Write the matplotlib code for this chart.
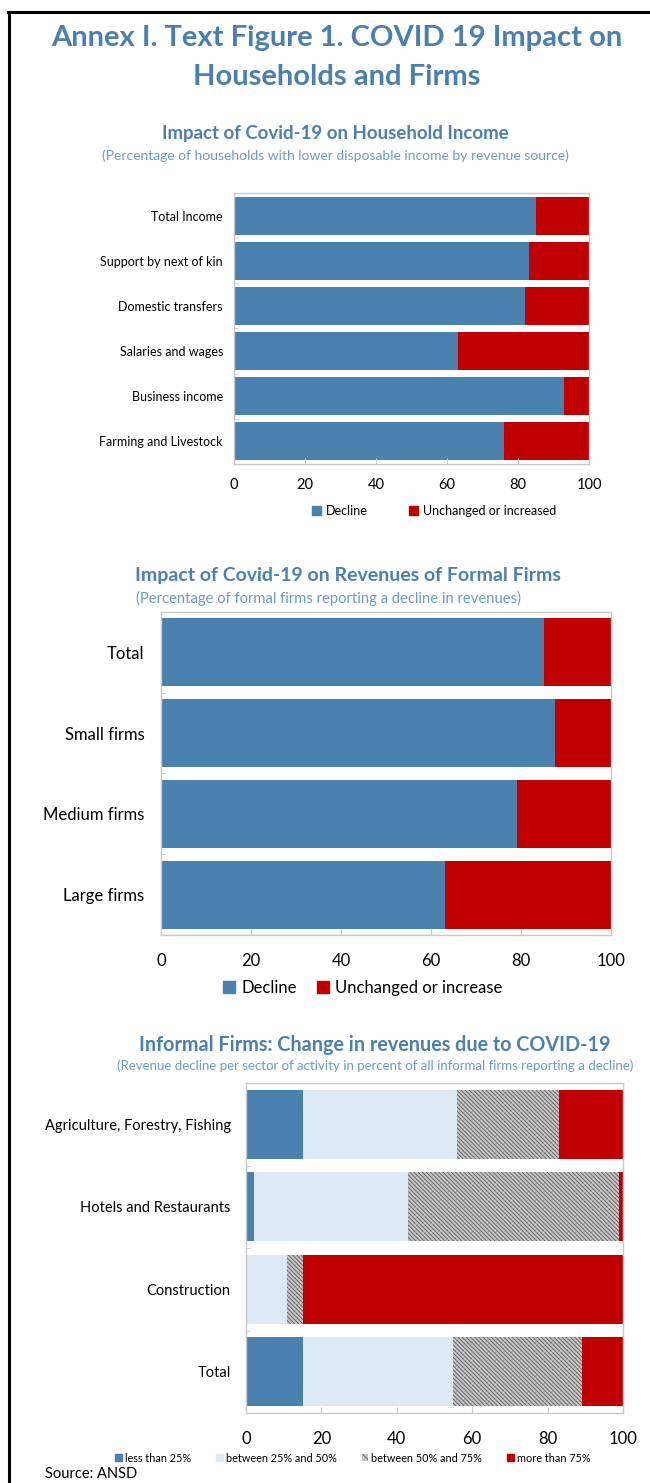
import matplotlib
matplotlib.use("Agg")
import matplotlib.pyplot as plt
from matplotlib.patches import Patch
from matplotlib.lines import Line2D
import numpy as np

plt.rcParams['font.family'] = ['Lato', 'DejaVu Sans']
plt.rcParams['hatch.linewidth'] = 0.6

# ---------------- data ----------------
hh_categories = ["Total Income", "Support by next of kin", "Domestic transfers",
                 "Salaries and wages", "Business income", "Farming and Livestock"]
hh_decline = [85, 83, 82, 63, 93, 76]
hh_unchanged = [15, 17, 18, 37, 7, 24]

ff_categories = ["Total", "Small firms", "Medium firms", "Large firms"]
ff_decline = [85, 87.5, 79, 63]
ff_unchanged = [15, 12.5, 21, 37]

inf_categories = ["Agriculture, Forestry, Fishing", "Hotels and Restaurants", "Construction", "Total"]
inf_lt25 = [15, 2, 0, 15]
inf_25_50 = [41, 41, 11, 40]
inf_50_75 = [27, 56, 4, 34]
inf_gt75 = [17, 1, 85, 11]

x_ticks = [0, 20, 40, 60, 80, 100]

BLUE = '#4A81AF'
RED = '#C00000'
LIGHT = '#DDE9F5'
HATCHFACE = '#C4C4C4'
TITLE = '#4A7FAF'
SUB = '#6A9BC8'
SPINE = '#C8C8C8'

W, H = 650, 1483
fig = plt.figure(figsize=(W / 100, H / 100), dpi=100)

def px_axes(l, t, r, b):
    return fig.add_axes([l / W, 1 - b / H, (r - l) / W, (b - t) / H])

def style_axes(ax, n, lab_size, tick_size, pad_x, pad_y):
    ax.set_xlim(0, 100)
    ax.set_ylim(n - 0.5, -0.5)
    ax.set_xticks(x_ticks)
    ax.set_xticklabels([str(t) for t in x_ticks])
    for s in ax.spines.values():
        s.set_color(SPINE)
        s.set_linewidth(1.0)
    ax.tick_params(axis='x', direction='in', length=4, color=SPINE, labelsize=tick_size, pad=pad_x)
    ax.tick_params(axis='y', length=0, labelsize=lab_size, pad=pad_y)
    ax.set_yticks(np.arange(n - 1) + 0.5, minor=True)
    ax.tick_params(axis='y', which='minor', direction='in', length=3, color=SPINE)

def ftext(x, y, s, **kw):
    fig.text(x / W, 1 - y / H, s, ha='center', va='center', **kw)

# border
fig.add_artist(Line2D([9 / W, 9 / W], [0, 1 - 12 / H], color='black', lw=2.2, transform=fig.transFigure))
fig.add_artist(Line2D([8 / W, 1], [1 - 12 / H, 1 - 12 / H], color='black', lw=2.2, transform=fig.transFigure))

# main title
ftext(337, 38, "Annex I. Text Figure 1. COVID 19 Impact on", color=TITLE, fontsize=21, fontweight='bold')
ftext(337, 77, "Households and Firms", color=TITLE, fontsize=21, fontweight='bold')

# ---------------- chart 1 ----------------
ftext(335, 133, "Impact of Covid-19 on Household Income", color=TITLE, fontsize=13.4, fontweight='bold')
ftext(335, 156, "(Percentage of households with lower disposable income by revenue source)", color=SUB, fontsize=10)
ax1 = px_axes(234, 193, 589, 464)
y1 = np.arange(len(hh_categories))
ax1.barh(y1, hh_decline, height=0.84, color=BLUE)
ax1.barh(y1, hh_unchanged, left=hh_decline, height=0.84, color=RED)
ax1.set_yticks(y1)
ax1.set_yticklabels(hh_categories)
style_axes(ax1, len(hh_categories), 9, 10.5, 10, 8)
fig.legend(handles=[Patch(color=BLUE, label='Decline'), Patch(color=RED, label='Unchanged or increased')],
           loc='center', bbox_to_anchor=(434 / W, 1 - 511 / H), ncol=2, frameon=False,
           fontsize=9, handlelength=0.7, handleheight=0.7, handletextpad=0.4, columnspacing=3.3)

# ---------------- chart 2 ----------------
ftext(348, 576, "Impact of Covid-19 on Revenues of Formal Firms", color=TITLE, fontsize=14, fontweight='bold')
ftext(329, 598, "(Percentage of formal firms reporting a decline in revenues)", color=SUB, fontsize=10.6)
ax2 = px_axes(161, 612, 611, 935)
y2 = np.arange(len(ff_categories))
ax2.barh(y2, ff_decline, height=0.84, color=BLUE)
ax2.barh(y2, ff_unchanged, left=ff_decline, height=0.84, color=RED)
ax2.set_yticks(y2)
ax2.set_yticklabels(ff_categories)
style_axes(ax2, len(ff_categories), 12, 12, 13, 12)
fig.legend(handles=[Patch(color=BLUE, label='Decline'), Patch(color=RED, label='Unchanged or increase')],
           loc='center', bbox_to_anchor=(363 / W, 1 - 988 / H), ncol=2, frameon=False,
           fontsize=12, handlelength=0.7, handleheight=0.7, handletextpad=0.4, columnspacing=1.2)

# ---------------- chart 3 ----------------
ftext(375, 1045, "Informal Firms: Change in revenues due to COVID-19", color=TITLE, fontsize=14.2, fontweight='bold')
ftext(375, 1066, "(Revenue decline per sector of activity in percent of all informal firms reporting a decline)",
      color=SUB, fontsize=9.5)
ax3 = px_axes(246, 1083, 623, 1413)
y3 = np.arange(len(inf_categories))
c1 = np.array(inf_lt25, dtype=float)
c2 = np.array(inf_25_50, dtype=float)
c3 = np.array(inf_50_75, dtype=float)
c4 = np.array(inf_gt75, dtype=float)
ax3.barh(y3, c1, height=0.84, color=BLUE)
ax3.barh(y3, c2, left=c1, height=0.84, color=LIGHT)
ax3.barh(y3, c3, left=c1 + c2, height=0.84, facecolor=HATCHFACE, edgecolor='#5A5A5A',
         hatch='\\\\\\\\\\\\\\\\', linewidth=0)
ax3.barh(y3, c4, left=c1 + c2 + c3, height=0.84, color=RED)
ax3.set_yticks(y3)
ax3.set_yticklabels(inf_categories)
style_axes(ax3, len(inf_categories), 10.5, 12, 13, 11)
fig.legend(handles=[Patch(color=BLUE, label='less than 25%'),
                    Patch(color=LIGHT, label='between 25% and 50%'),
                    Patch(facecolor=HATCHFACE, edgecolor='#5A5A5A', hatch='\\\\\\\\', linewidth=0,
                          label='between 50% and 75%'),
                    Patch(color=RED, label='more than 75%')],
           loc='center', bbox_to_anchor=(353 / W, 1 - 1458 / H), ncol=4, frameon=False,
           fontsize=7.8, handlelength=0.6, handleheight=0.6, handletextpad=0.3, columnspacing=2.3)

fig.text(45 / W, 1 - 1474 / H, "Source: ANSD", ha='left', va='center', fontsize=10.5, color='black')

fig.savefig("out.png", dpi=100)
